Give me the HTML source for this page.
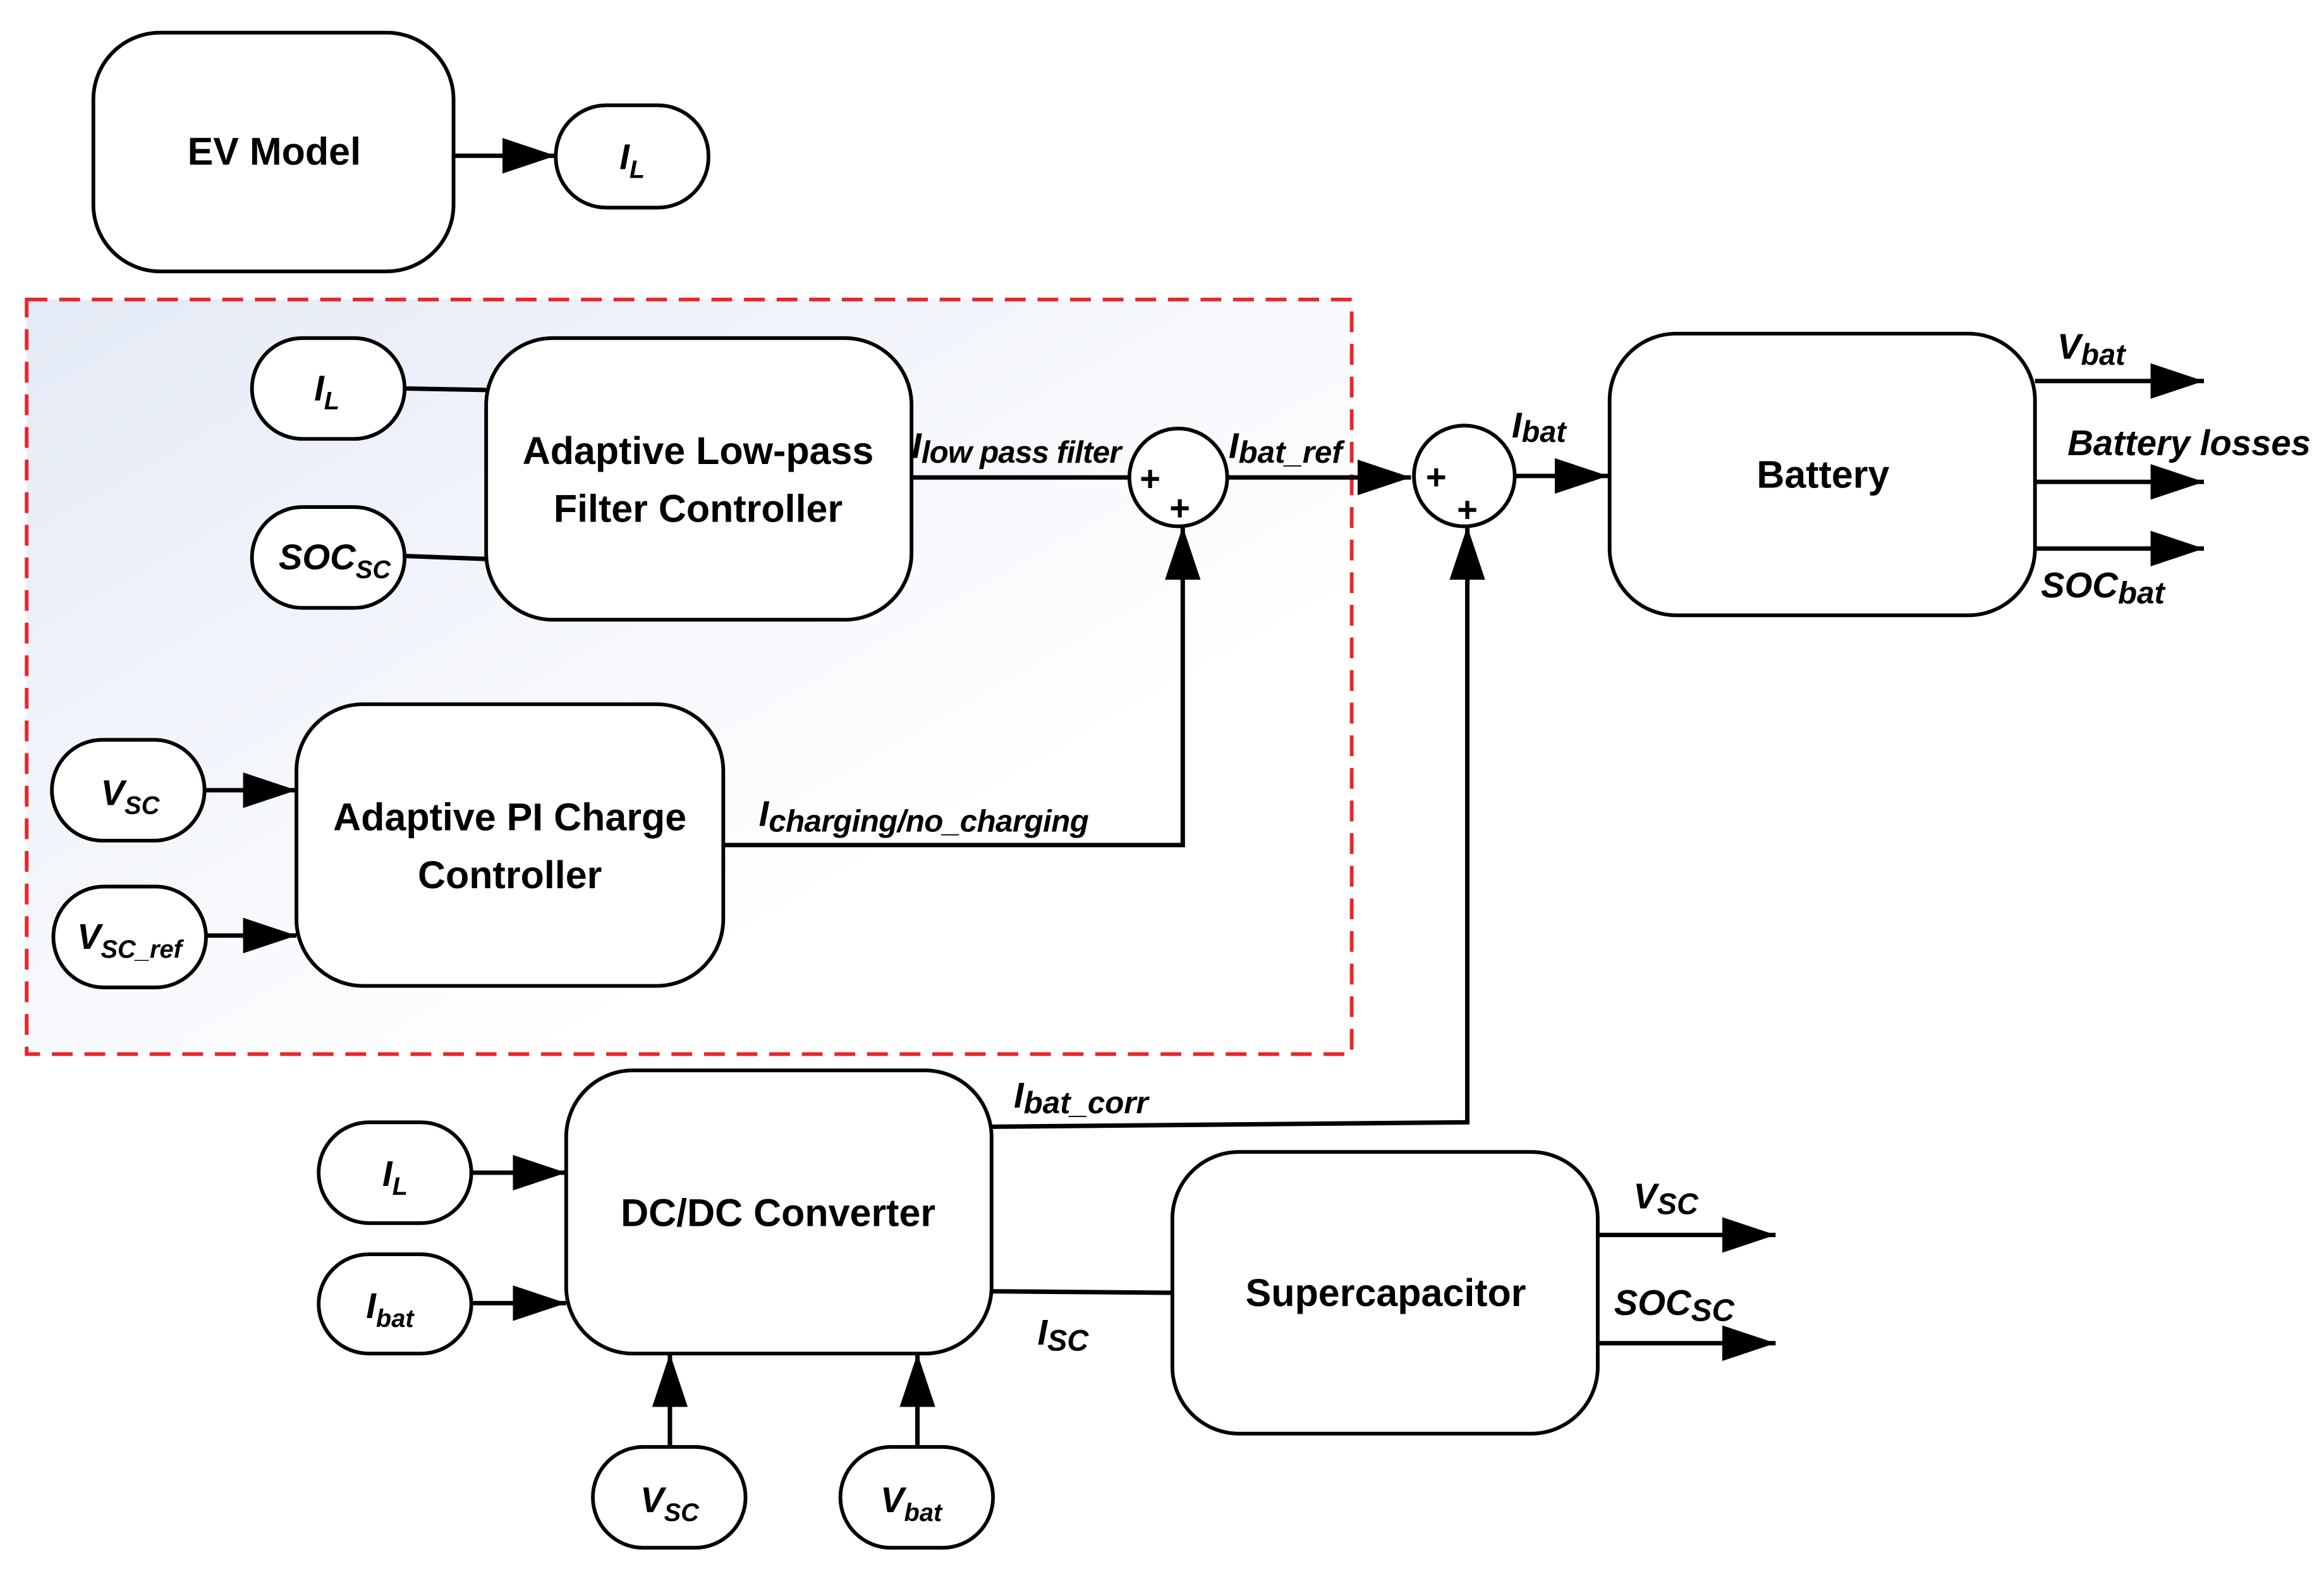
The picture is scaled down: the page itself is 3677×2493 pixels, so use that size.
<!DOCTYPE html>
<html><head><meta charset="utf-8"><style>
html,body{margin:0;padding:0;background:#fff;}
svg{display:block;}
text{font-family:"Liberation Sans",sans-serif;fill:#000;}
.t{font-weight:bold;font-size:26px;}
.l{font-weight:bold;font-style:italic;font-size:24px;}
.s{font-size:17px;}
</style></head><body>
<svg width="3677" height="2493" viewBox="0 0 1568 1063" xmlns="http://www.w3.org/2000/svg">
<defs>
<linearGradient id="g" x1="0" y1="0" x2="1" y2="1">
<stop offset="0" stop-color="#e4eaf6"/><stop offset="0.7" stop-color="#ffffff"/>
</linearGradient>
<marker id="A" viewBox="0 0 36 24" refX="36" refY="12" markerWidth="36" markerHeight="24" markerUnits="userSpaceOnUse" orient="auto">
<path d="M0,0 L36,12 L0,24 z" fill="#000"/></marker>
</defs>
<rect x="18" y="202" width="894" height="509" fill="url(#g)" stroke="#e8262a" stroke-width="2.5" stroke-dasharray="14,8"/>
<g fill="#fff" stroke="#000" stroke-width="2.5">
<rect x="63" y="22" width="243" height="161" rx="45"/>
<rect x="375" y="71" width="103" height="69" rx="34"/>
<rect x="170" y="228" width="103" height="68" rx="34"/>
<rect x="170" y="342" width="103" height="68" rx="34"/>
<rect x="328" y="228" width="287" height="190" rx="45"/>
<rect x="35" y="499" width="103" height="68" rx="34"/>
<rect x="36" y="598" width="103" height="68" rx="34"/>
<rect x="200" y="475" width="288" height="190" rx="45"/>
<circle cx="795" cy="322" r="33"/>
<circle cx="988" cy="321" r="34"/>
<rect x="1086" y="225" width="287" height="190" rx="45"/>
<rect x="382" y="722" width="287" height="191" rx="45"/>
<rect x="215" y="757" width="103" height="68" rx="34"/>
<rect x="215" y="846" width="103" height="67" rx="34"/>
<rect x="400" y="976" width="103" height="68" rx="34"/>
<rect x="567" y="976" width="103" height="68" rx="34"/>
<rect x="791" y="777" width="287" height="190" rx="45"/>
</g>
<g stroke="#000" stroke-width="3" fill="none">
<line x1="306" y1="105" x2="375" y2="105" marker-end="url(#A)"/>
<line x1="273" y1="262" x2="328" y2="263"/>
<line x1="273" y1="375" x2="328" y2="377"/>
<line x1="615" y1="322" x2="762" y2="322"/>
<line x1="828" y1="322" x2="952" y2="322" marker-end="url(#A)"/>
<line x1="1022" y1="321" x2="1085" y2="321" marker-end="url(#A)"/>
<line x1="1373" y1="257" x2="1487" y2="257" marker-end="url(#A)"/>
<line x1="1373" y1="325" x2="1487" y2="325" marker-end="url(#A)"/>
<line x1="1373" y1="370" x2="1487" y2="370" marker-end="url(#A)"/>
<line x1="138" y1="533" x2="200" y2="533" marker-end="url(#A)"/>
<line x1="139" y1="631" x2="200" y2="631" marker-end="url(#A)"/>
<polyline points="488,570 798,570 798,355" marker-end="url(#A)"/>
<line x1="318" y1="791" x2="382" y2="791" marker-end="url(#A)"/>
<line x1="318" y1="879" x2="382" y2="879" marker-end="url(#A)"/>
<line x1="452" y1="976" x2="452" y2="913" marker-end="url(#A)"/>
<line x1="619" y1="976" x2="619" y2="913" marker-end="url(#A)"/>
<polyline points="669,760 990,757 990,355" marker-end="url(#A)"/>
<line x1="669" y1="871" x2="791" y2="872"/>
<line x1="1078" y1="833" x2="1198" y2="833" marker-end="url(#A)"/>
<line x1="1078" y1="906" x2="1198" y2="906" marker-end="url(#A)"/>
</g>
<g class="t" text-anchor="middle">
<text x="185" y="111">EV Model</text>
<text x="471" y="313">Adaptive Low-pass</text>
<text x="471" y="352">Filter Controller</text>
<text x="344" y="560">Adaptive PI Charge</text>
<text x="344" y="599">Controller</text>
<text x="1230" y="329">Battery</text>
<text x="525" y="827">DC/DC Converter</text>
<text x="935" y="881">Supercapacitor</text>
<text x="776" y="331" font-size="24">+</text>
<text x="796" y="351" font-size="24">+</text>
<text x="969" y="330" font-size="24">+</text>
<text x="990" y="352" font-size="24">+</text>
</g>
<g class="l">
<text x="418" y="114">I<tspan class="s" dy="6">L</tspan></text>
<text x="212" y="270">I<tspan class="s" dy="6">L</tspan></text>
<text x="188" y="384">SOC<tspan class="s" dy="6">SC</tspan></text>
<text x="68" y="543">V<tspan class="s" dy="6">SC</tspan></text>
<text x="52" y="640">V<tspan class="s" dy="6">SC_ref</tspan></text>
<text x="258" y="800">I<tspan class="s" dy="6">L</tspan></text>
<text x="247" y="889">I<tspan class="s" dy="6">bat</tspan></text>
<text x="432" y="1020">V<tspan class="s" dy="6">SC</tspan></text>
<text x="594" y="1020">V<tspan class="s" dy="6">bat</tspan></text>
<text x="615" y="309">I<tspan font-size="21" dy="3" textLength="135">low pass filter</tspan></text>
<text x="829" y="309">I<tspan font-size="21" dy="3">bat_ref</tspan></text>
<text x="1020" y="295">I<tspan font-size="20" dy="3">bat</tspan></text>
<text x="1388" y="242">V<tspan font-size="20" dy="4">bat</tspan></text>
<text x="1395" y="307">Battery losses</text>
<text x="1377" y="403">SOC<tspan font-size="21" dy="4">bat</tspan></text>
<text x="512" y="557">I<tspan font-size="21" dy="4" textLength="216">charging/no_charging</tspan></text>
<text x="684" y="747">I<tspan font-size="21" dy="4">bat_corr</tspan></text>
<text x="700" y="907">I<tspan font-size="20" dy="4">SC</tspan></text>
<text x="1102" y="815">V<tspan font-size="20" dy="4">SC</tspan></text>
<text x="1089" y="887">SOC<tspan font-size="21" dy="4">SC</tspan></text>
</g>
</svg>
</body></html>
